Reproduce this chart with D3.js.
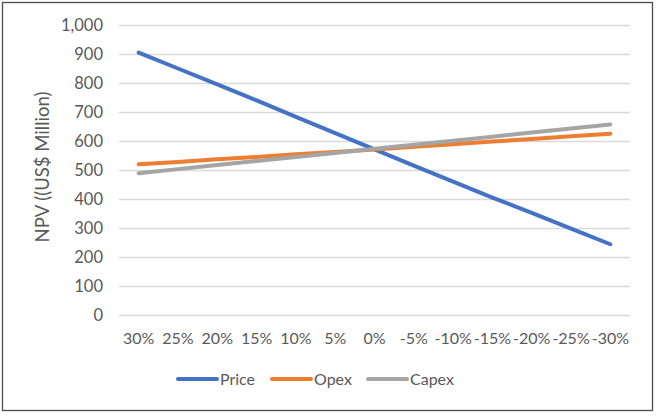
<!DOCTYPE html>
<html>
<head>
<meta charset="utf-8">
<script src="https://cdn.jsdelivr.net/npm/d3@7"></script>
<style>
  body { margin: 0; background: #fff; }
  text { font-family: Lato, "Open Sans", sans-serif; fill: #595959; }
</style>
</head>
<body>
<div id="chart"></div>
<script>
// sensitivity categories (change applied)
var categories = ["30%", "25%", "20%", "15%", "10%", "5%", "0%", "-5%", "-10%", "-15%", "-20%", "-25%", "-30%"];

// NPV values, US$ million
var priceValues = [905, 850, 795, 740, 683, 627, 571, 515, 460, 405, 352, 298, 244];
var opexValues  = [520, 528, 537, 545, 554, 562, 571, 580, 589, 598, 607, 616, 625];
var capexValues = [489, 503, 517, 531, 545, 559, 573, 587, 601, 615, 629, 643, 657];

var yTicks = [0, 100, 200, 300, 400, 500, 600, 700, 800, 900, 1000];

var seriesNames = ["Price", "Opex", "Capex"];
var seriesColors = ["#4472C4", "#ED7D31", "#A5A5A5"];

var series = [
    { name: seriesNames[0], values: priceValues, color: seriesColors[0] },
    { name: seriesNames[1], values: opexValues, color: seriesColors[1] },
    { name: seriesNames[2], values: capexValues, color: seriesColors[2] }
];

var width = 659, height = 417;
var plot = { left: 119, right: 630, top: 25, bottom: 315 };

var svg = d3.select("#chart").append("svg")
    .attr("width", width)
    .attr("height", height);

// chart border
svg.append("rect")
    .attr("x", 2.5).attr("y", 2.5)
    .attr("width", 650).attr("height", 408)
    .attr("fill", "#fff")
    .attr("stroke", "#4d4d4d")
    .attr("stroke-width", 1.3);

var x = d3.scaleBand()
    .domain(categories)
    .range([plot.left, plot.right]);

var y = d3.scaleLinear()
    .domain([0, 1000])
    .range([plot.bottom, plot.top]);

//Horizontal gridlines + y labels
var yAxis = d3.axisLeft(y)
    .tickValues(yTicks)
    .tickSize(-(plot.right - plot.left))
    .tickPadding(16)
    .tickFormat(d3.format(","));

var gy = svg.append("g")
    .attr("transform", `translate(${plot.left},0)`)
    .call(yAxis);
gy.select(".domain").remove();
gy.selectAll(".tick line").attr("stroke", "#d9d9d9").attr("stroke-width", 1.3);
gy.selectAll(".tick text")
    .attr("font-size", "16.5px")
    .attr("font-family", "Lato, sans-serif")
    .attr("fill", "#595959");

//Category labels
var xAxis = d3.axisBottom(x).tickSize(0).tickPadding(18);
var gx = svg.append("g")
    .attr("transform", `translate(0,${plot.bottom})`)
    .call(xAxis);
gx.select(".domain").remove();
gx.selectAll(".tick text")
    .attr("font-size", "16px")
    .attr("font-family", "Lato, sans-serif")
    .attr("fill", "#595959");

//Y axis title
svg.append("text")
    .attr("transform", "translate(49,167) rotate(-90)")
    .attr("text-anchor", "middle")
    .attr("font-size", "18.5px")
    .text("NPV ((US$ Million)");

//Lines
var line = d3.line()
    .x(function (d, i) { return x(categories[i]) + x.bandwidth() / 2; })
    .y(function (d) { return y(d); });

svg.selectAll(".series")
    .data(series)
    .enter().append("path")
    .attr("class", "series")
    .attr("d", function (d) { return line(d.values); })
    .attr("fill", "none")
    .attr("stroke", function (d) { return d.color; })
    .attr("stroke-width", 4)
    .attr("stroke-linecap", "round")
    .attr("stroke-linejoin", "round");

//Legend
var legendX = [178, 272, 368];
var legend = svg.selectAll(".legend")
    .data(series)
    .enter().append("g")
    .attr("class", "legend")
    .attr("transform", function (d, i) { return `translate(${legendX[i]},379)`; });

legend.append("line")
    .attr("x1", 0).attr("x2", 39)
    .attr("stroke", function (d) { return d.color; })
    .attr("stroke-width", 4)
    .attr("stroke-linecap", "round");

legend.append("text")
    .attr("x", 42)
    .attr("dy", "0.35em")
    .attr("font-size", "16px")
    .text(function (d) { return d.name; });
</script>
</body>
</html>
